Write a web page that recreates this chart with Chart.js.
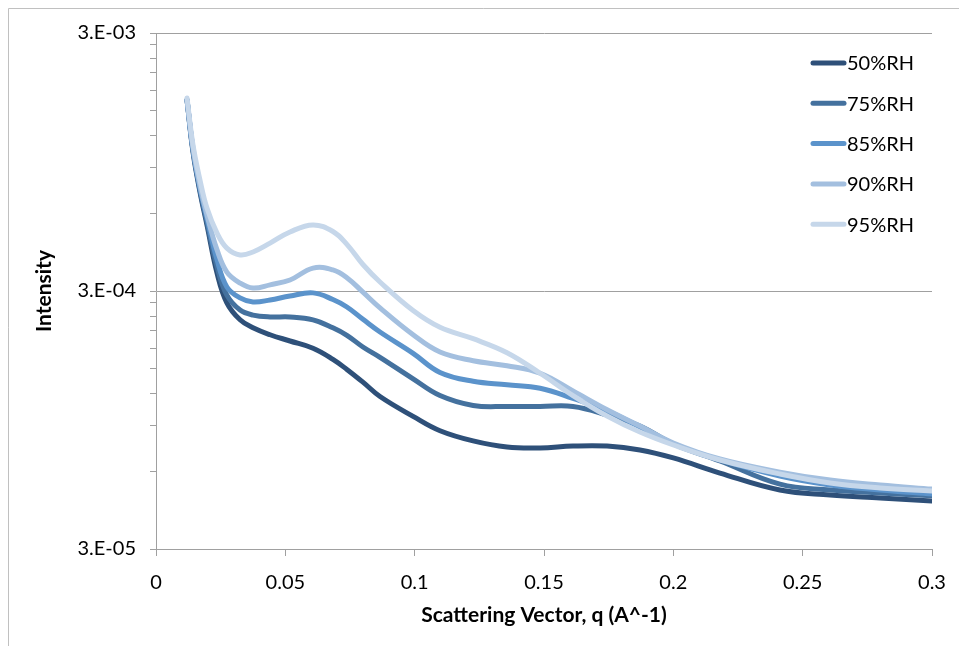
<!DOCTYPE html>
<html>
<head>
<meta charset="utf-8">
<script src="https://cdn.jsdelivr.net/npm/chart.js@4/dist/chart.umd.min.js"></script>
<style>
  html, body { margin: 0; padding: 0; background: #fff; }
  #wrap { width: 959px; height: 646px; }
</style>
</head>
<body>
<div id="wrap"><canvas id="myChart" width="959" height="646"></canvas></div>
<script>
// data -----------------------------------------------------------
const qValues = [0.012, 0.0143, 0.017, 0.0197, 0.0236, 0.0274, 0.0325, 0.0375, 0.0441, 0.0518,
  0.0607, 0.0684, 0.0738, 0.08, 0.0866, 0.0994, 0.1098, 0.1226, 0.1357, 0.1485,
  0.1612, 0.1744, 0.1871, 0.2, 0.218, 0.2412, 0.2606, 0.28, 0.3];

const rh50 = [1.65e-3, 1.037e-3, 7.26e-4, 5.41e-4, 3.52e-4, 2.70e-4, 2.32e-4, 2.16e-4, 2.03e-4, 1.92e-4,
  1.80e-4, 1.63e-4, 1.49e-4, 1.33e-4, 1.17e-4, 9.80e-5, 8.62e-5, 7.87e-5, 7.45e-5, 7.39e-5,
  7.52e-5, 7.52e-5, 7.26e-5, 6.76e-5, 5.91e-5, 5.08e-5, 4.86e-5, 4.73e-5, 4.60e-5];
const rh75 = [1.65e-3, 1.056e-3, 7.39e-4, 5.55e-4, 3.72e-4, 2.89e-4, 2.53e-4, 2.42e-4, 2.38e-4, 2.38e-4,
  2.32e-4, 2.16e-4, 2.02e-4, 1.82e-4, 1.66e-4, 1.37e-4, 1.18e-4, 1.08e-4, 1.07e-4, 1.07e-4,
  1.07e-4, 9.92e-5, 8.99e-5, 7.66e-5, 6.58e-5, 5.35e-5, 5.08e-5, 4.95e-5, 4.82e-5];
const rh85 = [1.65e-3, 1.056e-3, 7.52e-4, 5.75e-4, 3.96e-4, 3.11e-4, 2.82e-4, 2.72e-4, 2.77e-4, 2.87e-4,
  2.95e-4, 2.78e-4, 2.60e-4, 2.33e-4, 2.08e-4, 1.72e-4, 1.45e-4, 1.34e-4, 1.30e-4, 1.26e-4,
  1.15e-4, 1.03e-4, 8.91e-5, 7.66e-5, 6.64e-5, 5.75e-5, 5.31e-5, 5.08e-5, 4.90e-5];
const rh90 = [1.65e-3, 1.075e-3, 7.66e-4, 5.91e-4, 4.33e-4, 3.55e-4, 3.22e-4, 3.08e-4, 3.17e-4, 3.31e-4,
  3.68e-4, 3.62e-4, 3.38e-4, 2.97e-4, 2.58e-4, 2.03e-4, 1.74e-4, 1.61e-4, 1.54e-4, 1.44e-4,
  1.23e-4, 1.04e-4, 8.99e-5, 7.73e-5, 6.70e-5, 5.96e-5, 5.55e-5, 5.31e-5, 5.12e-5];
const rh95 = [1.679e-3, 1.104e-3, 8.08e-4, 6.29e-4, 5.03e-4, 4.40e-4, 4.14e-4, 4.25e-4, 4.60e-4, 5.08e-4,
  5.41e-4, 5.10e-4, 4.55e-4, 3.80e-4, 3.25e-4, 2.52e-4, 2.17e-4, 1.96e-4, 1.73e-4, 1.44e-4,
  1.18e-4, 9.83e-5, 8.52e-5, 7.59e-5, 6.64e-5, 5.86e-5, 5.41e-5, 5.17e-5, 5.03e-5];

const seriesLabels = ['50%RH', '75%RH', '85%RH', '90%RH', '95%RH'];
const seriesColors = ['#2e5079', '#44719e', '#5b93cb', '#a3bfdf', '#c6d7ea'];
const seriesValues = [rh50, rh75, rh85, rh90, rh95];

const yMajor = [3e-5, 3e-4, 3e-3];
const xTicks = [0, 0.05, 0.1, 0.15, 0.2, 0.25, 0.3];

// helpers ---------------------------------------------------------
const FONT = 'Lato, Carlito, Calibri, sans-serif';
const AXIS = '#a0a0a0';

// major ticks plus Excel-style minor ticks (multiples of the decade base)
const yTickList = [];
yMajor.forEach((m, i) => {
  yTickList.push({ value: m, major: true });
  if (i < yMajor.length - 1) {
    for (let k = 2; k <= 9; k++) yTickList.push({ value: m * k, major: false });
  }
});

function isMajor(v) {
  return yMajor.some(m => Math.abs(v / m - 1) < 1e-6);
}

function sciLabel(v) {
  const e = Math.round(Math.log10(v / 3));
  const sign = e < 0 ? '-' : '+';
  return '3.E' + sign + String(Math.abs(e)).padStart(2, '0');
}

const datasets = seriesLabels.map((label, i) => ({
  label: label,
  data: qValues.map((q, j) => ({ x: q, y: seriesValues[i][j] })),
  borderColor: seriesColors[i],
  backgroundColor: seriesColors[i],
  borderWidth: 5,
  pointRadius: 0,
  fill: false,
  tension: 0.4,
  borderCapStyle: 'round',
  borderJoinStyle: 'round',
  order: seriesLabels.length - i
}));

// legend drawn inside the plot, top right
const rhLegend = {
  id: 'rhLegend',
  afterDatasetsDraw(chart) {
    const ctx = chart.ctx;
    const area = chart.chartArea;
    const x0 = area.right - 119;
    ctx.save();
    ctx.font = '20px ' + FONT;
    ctx.textBaseline = 'middle';
    ctx.textAlign = 'left';
    seriesLabels.forEach((label, i) => {
      const y = area.top + 30 + i * 40.3;
      ctx.strokeStyle = seriesColors[i];
      ctx.lineWidth = 5;
      ctx.lineCap = 'round';
      ctx.beginPath();
      ctx.moveTo(x0, y);
      ctx.lineTo(x0 + 31, y);
      ctx.stroke();
      ctx.fillStyle = '#000';
      ctx.fillText(label, x0 + 34, y + 1);
    });
    ctx.restore();
  }
};

// outer chart frame
const frame = {
  id: 'frame',
  beforeDraw(chart) {
    const ctx = chart.ctx;
    ctx.save();
    ctx.fillStyle = '#fff';
    ctx.fillRect(0, 0, chart.width, chart.height);
    ctx.strokeStyle = '#c0c0c0';
    ctx.lineWidth = 1;
    ctx.beginPath();
    ctx.moveTo(8.5, chart.height);
    ctx.lineTo(8.5, 8.5);
    ctx.lineTo(chart.width, 8.5);
    ctx.stroke();
    ctx.restore();
  }
};

const config = {
  type: 'line',
  data: { datasets },
  options: {
    responsive: false,
    animation: false,
    layout: { padding: { top: 33, right: 27, left: 0, bottom: 0 } },
    plugins: {
      legend: { display: false },
      tooltip: { enabled: false }
    },
    scales: {
      x: {
        type: 'linear',
        min: 0,
        max: 0.3,
        afterFit(scale) { scale.height = 97; },
        afterBuildTicks(scale) { scale.ticks = xTicks.map(v => ({ value: v })); },
        ticks: {
          autoSkip: false,
          maxRotation: 0,
          color: '#000',
          padding: 8,
          font: { family: FONT, size: 20, lineHeight: 1.9 },
          callback: v => String(Number(v.toFixed(2)))
        },
        grid: { drawOnChartArea: false, color: AXIS, tickColor: AXIS, tickLength: 7 },
        border: { display: true, color: AXIS, width: 1 },
        title: {
          display: true,
          text: 'Scattering Vector, q (A^-1)',
          color: '#000',
          font: { family: FONT, size: 21, weight: 'bold' },
          padding: { top: 0, bottom: 18 }
        }
      },
      y: {
        type: 'logarithmic',
        min: 3e-5,
        max: 3e-3,
        afterFit(scale) { scale.width = 156; },
        afterBuildTicks(scale) { scale.ticks = yTickList.map(t => ({ value: t.value, major: t.major })); },
        ticks: {
          autoSkip: false,
          color: '#000',
          padding: 14,
          font: { family: FONT, size: 20 },
          callback: v => (isMajor(v) ? sciLabel(v) : '')
        },
        grid: {
          color: c => (c.tick && isMajor(c.tick.value) ? AXIS : 'rgba(0,0,0,0)'),
          tickColor: AXIS,
          tickLength: 6
        },
        border: { display: true, color: AXIS, width: 1 },
        title: {
          display: true,
          text: 'Intensity',
          color: '#000',
          font: { family: FONT, size: 21, weight: 'bold' },
          padding: { top: 32, bottom: 0 }
        }
      }
    }
  },
  plugins: [frame, rhLegend]
};

const myChart = new Chart(document.getElementById('myChart'), config);
</script>
</body>
</html>
